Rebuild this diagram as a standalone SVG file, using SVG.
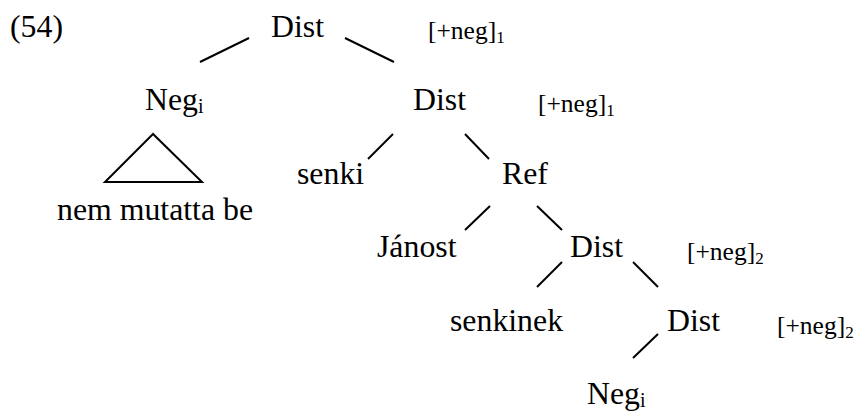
<svg xmlns="http://www.w3.org/2000/svg" width="858" height="411" viewBox="0 0 858 411">
<style>
text{font-family:"Liberation Serif","Times New Roman",serif;fill:#000}
.m{font-size:31.8px}
.f{font-size:25.5px}
.s{font-size:17px}
.si{font-size:20px}
line,polygon{stroke:#000;stroke-width:2;fill:none}
</style>
<rect width="858" height="411" fill="#fff"/>
<text class="m" x="10" y="37">(54)</text>
<g id="dist1"><text class="m" x="271" y="37">Dist</text><text class="f" x="428" y="39">[+neg]<tspan class="s" dy="4">1</tspan></text></g>
<g id="neg1"><text class="m" x="145" y="110">Neg<tspan class="si" dy="3">i</tspan></text></g>
<g id="vp"><polygon points="153,134 105,182 202,182"/><text class="m" x="57" y="220">nem mutatta be</text></g>
<g id="dist2"><text class="m" x="413" y="110">Dist</text><text class="f" x="538" y="112">[+neg]<tspan class="s" dy="4">1</tspan></text></g>
<g id="senki"><text class="m" x="297" y="184">senki</text></g>
<g id="ref"><text class="m" x="502" y="184">Ref</text></g>
<g id="janost"><text class="m" x="377" y="257">Jánost</text></g>
<g id="dist3"><text class="m" x="570" y="257">Dist</text><text class="f" x="687" y="260">[+neg]<tspan class="s" dy="4">2</tspan></text></g>
<g id="senkinek"><text class="m" x="450" y="331">senkinek</text></g>
<g id="dist4"><text class="m" x="667" y="331">Dist</text><text class="f" x="777" y="334">[+neg]<tspan class="s" dy="4">2</tspan></text></g>
<g id="neg2"><text class="m" x="587" y="404">Neg<tspan class="si" dy="3">i</tspan></text></g>
<g id="connectors">
<line x1="249" y1="38" x2="200" y2="62"/>
<line x1="345" y1="38" x2="394" y2="62"/>
<line x1="393" y1="134" x2="368" y2="159"/>
<line x1="465" y1="134" x2="489" y2="159"/>
<line x1="490" y1="206" x2="465" y2="230"/>
<line x1="537" y1="206" x2="562" y2="230"/>
<line x1="562" y1="262" x2="537" y2="287"/>
<line x1="633" y1="262" x2="658" y2="287"/>
<line x1="658" y1="334" x2="633" y2="358"/>
</g>
</svg>
